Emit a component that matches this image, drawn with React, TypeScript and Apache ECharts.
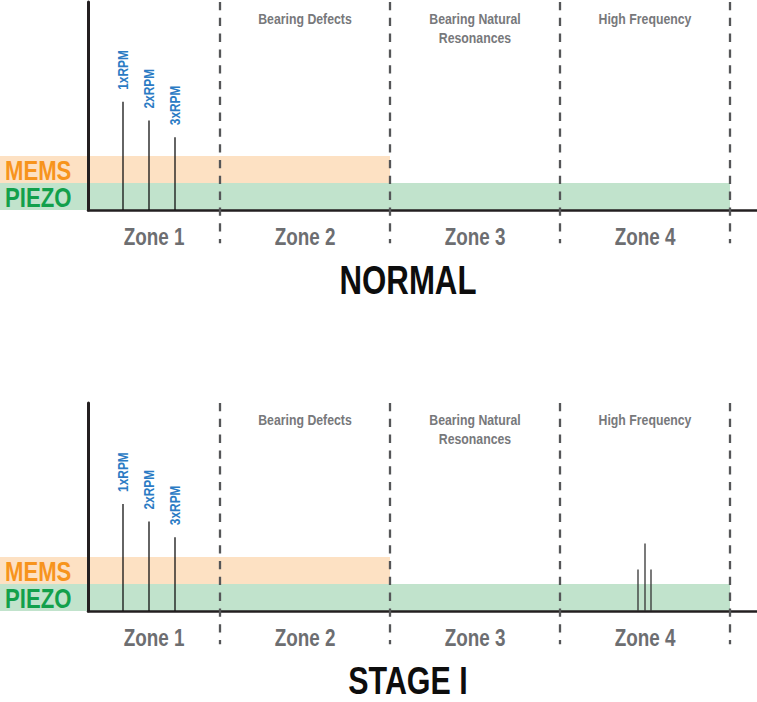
import React, { useEffect, useRef } from 'react';
import * as echarts from 'echarts';

// ---- data (frequency units along x, amplitude units along y) ----
const panelTitles = ['NORMAL', 'STAGE I'];
const zoneNames = ['Zone 1', 'Zone 2', 'Zone 3', 'Zone 4'];
const zoneHeaders = ['', 'Bearing Defects', 'Bearing Natural\nResonances', 'High Frequency'];
const zoneEdges = [0, 13.2, 30.2, 47.2, 64.2];
const sensorNames = ['MEMS', 'PIEZO'];
const sensorFloor = [26, 13];
const sensorRangeStart = [-8.8, -8.8];
const sensorRangeEnd = [30.2, 64.2];
const harmonicLabels = ['1xRPM', '2xRPM', '3xRPM'];
const harmonicFreq = [3.5, 6.1, 8.7];
const normalHarmonicAmp = [52, 43, 35];
const stage1HarmonicAmp = [51.5, 43, 35.5];
const stage1HfFreq = [55.0, 55.7, 56.3];
const stage1HfAmp = [20, 32.5, 20];

const FONT = '"Liberation Sans", Arial, sans-serif';
const NARROW = 0.82;
const bandColors = ['#fde1c3', '#c1e3cc'];
const sensorTextColors = ['#f7941d', '#12a04b'];

function buildPanel(gi: number, harmAmp: number[], hfFreq: number[], hfAmp: number[]) {
  const series: any[] = [];
  // noise-floor bands
  series.push({
    type: 'custom',
    xAxisIndex: gi,
    yAxisIndex: gi,
    clip: false,
    z: 1,
    silent: true,
    data: sensorNames.map((_, i) => [sensorRangeStart[i], sensorRangeEnd[i], sensorFloor[i], i]),
    renderItem: (params: any, api: any) => {
      const x0 = api.value(0), x1 = api.value(1), lvl = api.value(2), idx = api.value(3);
      const lower = idx < sensorFloor.length - 1 ? sensorFloor[idx + 1] : 0;
      const p0 = api.coord([x0, lvl]);
      const p1 = api.coord([x1, 0]);
      const pm = api.coord([x0, (lvl + lower) / 2]);
      return {
        type: 'group',
        children: [
          { type: 'rect', shape: { x: p0[0], y: p0[1], width: p1[0] - p0[0], height: p1[1] - p0[1] }, style: { fill: bandColors[idx] } },
          { type: 'text', x: p0[0] + 5, y: pm[1] + 1, scaleX: NARROW, z2: 5, style: { text: sensorNames[idx], fill: sensorTextColors[idx], font: `bold 27px ${FONT}`, align: 'left', verticalAlign: 'middle' } },
        ],
      };
    },
  });
  // zone boundaries
  series.push({
    type: 'custom',
    xAxisIndex: gi,
    yAxisIndex: gi,
    clip: false,
    z: 5,
    silent: true,
    data: zoneEdges.slice(1).map((e) => [e]),
    renderItem: (params: any, api: any) => {
      const a = api.coord([api.value(0), 100]);
      const b = api.coord([api.value(0), -16]);
      return { type: 'line', shape: { x1: a[0], y1: a[1], x2: b[0], y2: b[1] }, style: { stroke: '#555658', lineWidth: 2.3, lineDash: [8.3, 7.5] } };
    },
  });
  // zone labels + headers
  series.push({
    type: 'custom',
    xAxisIndex: gi,
    yAxisIndex: gi,
    clip: false,
    z: 5,
    silent: true,
    data: zoneNames.map((_, i) => [(zoneEdges[i] + zoneEdges[i + 1]) / 2, i]),
    renderItem: (params: any, api: any) => {
      const cx = api.value(0), idx = api.value(1);
      const pz = api.coord([cx, -13]);
      const ph = api.coord([cx, 92]);
      return {
        type: 'group',
        children: [
          { type: 'text', x: pz[0], y: pz[1], scaleX: NARROW, style: { text: zoneNames[idx], fill: '#6d6e71', font: `bold 23px ${FONT}`, align: 'center', verticalAlign: 'middle' } },
          { type: 'text', x: ph[0], y: ph[1] - 9.5, scaleX: NARROW, style: { text: zoneHeaders[idx], fill: '#77787b', font: `bold 15px ${FONT}`, lineHeight: 19, align: 'center', verticalAlign: 'top' } },
        ],
      };
    },
  });
  // harmonic spikes
  series.push({
    type: 'custom',
    xAxisIndex: gi,
    yAxisIndex: gi,
    clip: false,
    z: 6,
    silent: true,
    data: harmonicFreq.map((f, i) => [f, harmAmp[i], i]),
    renderItem: (params: any, api: any) => {
      const f = api.value(0), amp = api.value(1), idx = api.value(2);
      const top = api.coord([f, amp]);
      const base = api.coord([f, 0]);
      return {
        type: 'group',
        children: [
          { type: 'line', shape: { x1: top[0], y1: top[1], x2: base[0], y2: base[1] }, style: { stroke: '#111', lineWidth: 1.3 } },
          { type: 'text', x: top[0] + 0.5, y: top[1] - 12, rotation: Math.PI / 2, scaleX: NARROW, style: { text: harmonicLabels[idx], fill: '#2b7bc4', font: `bold 14.5px ${FONT}`, align: 'left', verticalAlign: 'middle' } },
        ],
      };
    },
  });
  if (hfFreq.length) {
    series.push({
      type: 'custom',
      xAxisIndex: gi,
      yAxisIndex: gi,
      clip: false,
      z: 6,
      silent: true,
      data: hfFreq.map((f, i) => [f, hfAmp[i]]),
      renderItem: (params: any, api: any) => {
        const top = api.coord([api.value(0), api.value(1)]);
        const base = api.coord([api.value(0), 0]);
        return { type: 'line', shape: { x1: top[0], y1: top[1], x2: base[0], y2: base[1] }, style: { stroke: '#333', lineWidth: 1.3 } };
      },
    });
  }
  return series;
}

export default function App() {
  const ref = useRef<HTMLDivElement>(null);
  useEffect(() => {
    document.body.style.margin = '0';
    if (!ref.current) return;
    const chart = echarts.init(ref.current, null, { renderer: 'svg' });
    const axisX = (gi: number) => ({
      type: 'value', gridIndex: gi, min: 0, max: 66.9, z: 3,
      axisLine: { show: true, lineStyle: { color: '#231f20', width: 2.5 } },
      axisTick: { show: false }, axisLabel: { show: false }, splitLine: { show: false },
    });
    const axisY = (gi: number) => ({
      type: 'value', gridIndex: gi, min: 0, max: 100, z: 3,
      axisLine: { show: true, lineStyle: { color: '#231f20', width: 3 } },
      axisTick: { show: false }, axisLabel: { show: false }, splitLine: { show: false },
    });
    chart.setOption({
      animation: false,
      grid: [
        { left: 88, right: 0, top: 2, height: 208 },
        { left: 88, right: 0, top: 403, height: 208 },
      ],
      xAxis: [axisX(0), axisX(1)],
      yAxis: [axisY(0), axisY(1)],
      graphic: [
        { type: 'text', x: 408, y: 280.5, scaleX: 0.78, style: { text: panelTitles[0], fill: '#0d0d0d', font: `bold 40px ${FONT}`, align: 'center', verticalAlign: 'middle' } },
        { type: 'text', x: 408, y: 680.5, scaleX: 0.8, style: { text: panelTitles[1], fill: '#0d0d0d', font: `bold 38px ${FONT}`, align: 'center', verticalAlign: 'middle' } },
      ],
      series: [
        ...buildPanel(0, normalHarmonicAmp, [], []),
        ...buildPanel(1, stage1HarmonicAmp, stage1HfFreq, stage1HfAmp),
      ],
    });
    return () => chart.dispose();
  }, []);
  return <div ref={ref} style={{ width: 757, height: 702 }} />;
}
